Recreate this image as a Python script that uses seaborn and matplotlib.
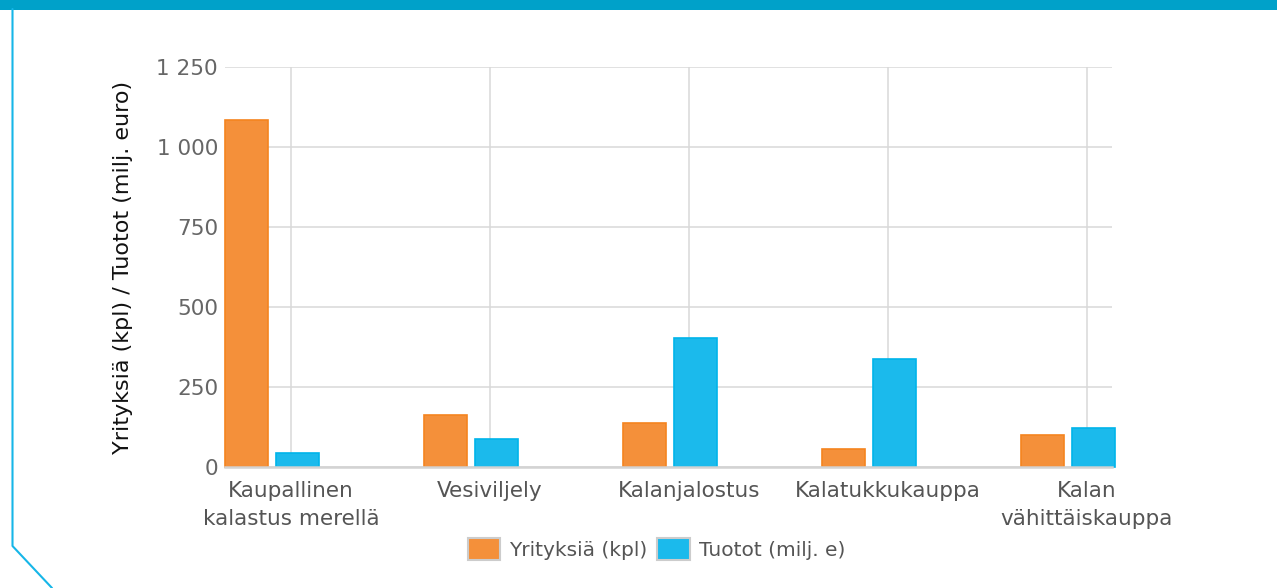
import pandas as pd
import seaborn as sns
import matplotlib.pyplot as plt
from matplotlib.patches import Patch, Rectangle
from matplotlib.lines import Line2D
from matplotlib.ticker import FuncFormatter

# data
toimialat = ["Kaupallinen\nkalastus merellä", "Vesiviljely", "Kalanjalostus",
             "Kalatukkukauppa", "Kalan\nvähittäiskauppa"]
yrityksia = [1085, 164, 136, 57, 99]
tuotot = [43, 86, 404, 336, 123]
sarjat = ["Yrityksiä (kpl)", "Tuotot (milj. e)"]
y_ticks = [0, 250, 500, 750, 1000, 1250]

oranssi = "#F4903A"
sininen = "#1BBAEC"
reunat = ["#F5841F", "#00B4EA"]

df = pd.DataFrame({
    "toimiala": toimialat * 2,
    "sarja": [sarjat[0]] * len(toimialat) + [sarjat[1]] * len(toimialat),
    "arvo": yrityksia + tuotot,
})

sns.set_style("white")
plt.rcParams["font.family"] = ["DejaVu Sans"]

W, H = 1277, 588
fig = plt.figure(figsize=(W / 100, H / 100), dpi=100)
ax = fig.add_axes([225 / W, 1 - 467 / H, (1112 - 225) / W, (467 - 67) / H])

sns.barplot(data=df, x="toimiala", y="arvo", hue="sarja", hue_order=sarjat,
            palette=[oranssi, sininen], width=0.512, gap=0.15, saturation=1,
            legend=False, linewidth=1.2, ax=ax)
for cont, ec in zip(ax.containers, reunat):
    for bar in cont:
        bar.set_edgecolor(ec)
        bar.set_clip_on(False)

# gridlines / labels sit a bit right of the bar pair, like the original
ax.set_xticks([i + 0.094 for i in range(len(toimialat))], toimialat)
ax.set_xlim(-0.237, 4.22)
ax.set_ylim(0, 1250)
ax.set_yticks(y_ticks)
ax.yaxis.set_major_formatter(FuncFormatter(lambda v, p: f"{v:,.0f}".replace(",", " ")))

ax.set_axisbelow(True)
ax.grid(True, axis="both", color="#d9d9d9", linewidth=1.1)
for s in ["top", "right", "left"]:
    ax.spines[s].set_visible(False)
ax.spines["bottom"].set_color("#d3d3d3")
ax.spines["bottom"].set_linewidth(1.8)

ax.tick_params(axis="y", length=0, pad=5, labelsize=15.5, labelcolor="#666666")
ax.tick_params(axis="x", length=0, pad=10, labelsize=15.5, labelcolor="#555555")
for t in ax.get_xticklabels():
    t.set_linespacing(1.5)

ax.set_xlabel("")
ax.set_ylabel("Yrityksiä (kpl) / Tuotot (milj. euro)", fontsize=16,
              color="#111111", labelpad=17)

kahvat = [Patch(facecolor=oranssi, edgecolor="#cccccc", linewidth=1.5),
          Patch(facecolor=sininen, edgecolor="#cccccc", linewidth=1.5)]
fig.legend(kahvat, sarjat, loc="center", bbox_to_anchor=(0.514, 0.066), ncol=2,
           frameon=False, fontsize=14.5, labelcolor="#555555", handlelength=1.6,
           handleheight=1.25, handletextpad=0.45, columnspacing=0.5)

# page decoration: top bar and left border with cut corner
fig.add_artist(Rectangle((0, 1 - 9.5 / H), 1, 9.5 / H, transform=fig.transFigure,
                         facecolor="#00A1C9", edgecolor="none"))
fig.add_artist(Line2D([12.5 / W, 12.5 / W, 52 / W], [1 - 9 / H, 1 - 546 / H, 0],
                      transform=fig.transFigure, color="#16B6E8", linewidth=1.5))

fig.savefig("out.png", dpi=100)
